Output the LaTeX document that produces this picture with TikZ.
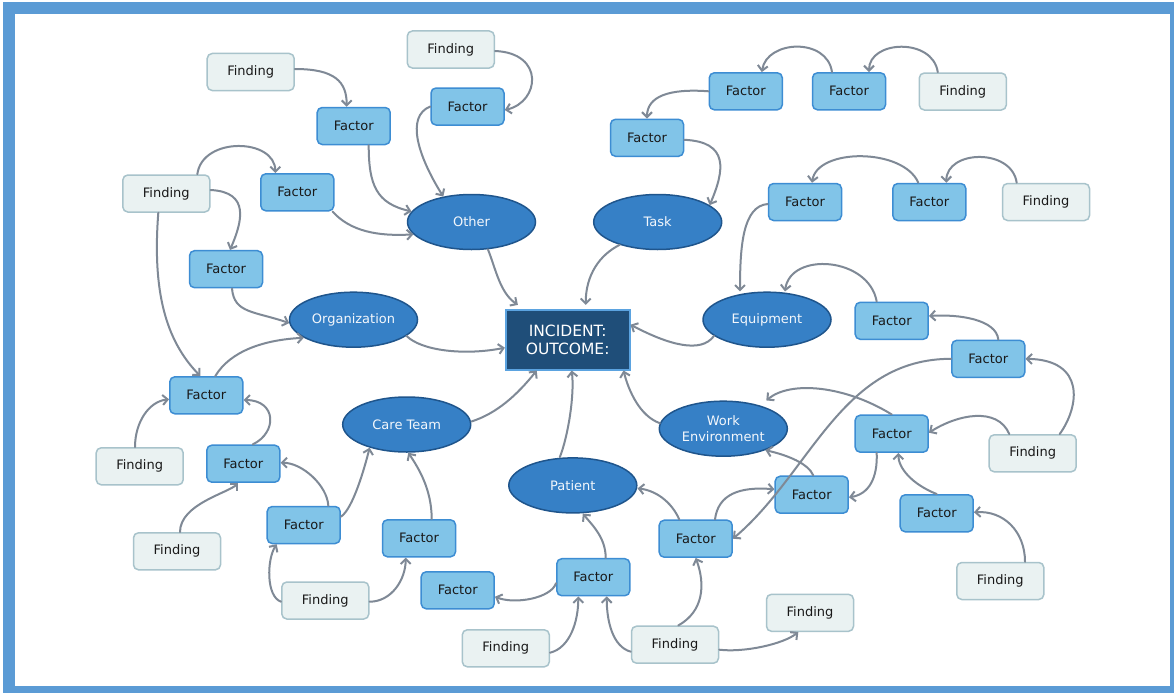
\documentclass[tikz,border=0pt]{standalone}
\usepackage{fontspec}
\setmainfont{DejaVu Sans}
\usetikzlibrary{arrows.meta,shapes.geometric}
\definecolor{framebl}{HTML}{5B9BD5}
\definecolor{factfill}{HTML}{81C4E8}
\definecolor{factline}{HTML}{3D8DD3}
\definecolor{findfill}{HTML}{EAF2F2}
\definecolor{findline}{HTML}{A8C3CB}
\definecolor{catfill}{HTML}{3680C6}
\definecolor{catline}{HTML}{1F558C}
\definecolor{corefill}{HTML}{1F4E79}
\definecolor{coreline}{HTML}{5BA3E0}
\definecolor{linkgray}{HTML}{7F8996}
\tikzset{
  box/.style={rectangle, rounded corners=5pt, minimum height=37pt, inner sep=0pt,
    line width=1.5pt, font=\fontsize{13}{15}\selectfont, text=black!90},
  factor/.style={box, minimum width=73pt, fill=factfill, draw=factline},
  finding/.style={box, minimum width=87pt, fill=findfill, draw=findline},
  cat/.style={ellipse, minimum width=128pt, minimum height=55pt, inner sep=0pt,
    fill=catfill, draw=catline, line width=1.5pt, text=white!94!catfill,
    font=\fontsize{13}{16.7}\selectfont, align=center},
  core/.style={rectangle, minimum width=124pt, minimum height=60pt, inner sep=0pt,
    fill=corefill, draw=coreline, line width=1.6pt, text=white,
    font=\fontsize{15.5}{18.3}\selectfont, align=center},
  link/.style={draw=linkgray, line width=2pt, line cap=round,
    -{Straight Barb[length=5pt,width=10pt]}},
}
\begin{document}
\begin{tikzpicture}[x=1pt,y=-1pt]
\useasboundingbox (0,0) rectangle (1174,693);
% frame
\fill[framebl] (3,2) rectangle (1174,693);
\fill[white] (15,14) rectangle (1170,686);

% central outcome
\node[core] (core) at (567.7,339.7) {INCIDENT:\\OUTCOME:};

% categories
\node[cat] (oth)  at (471.5,222)   {Other};
\node[cat] (task) at (657.7,222)   {Task};
\node[cat] (eq)   at (767,319.7)   {Equipment};
\node[cat] (org)  at (353.5,319.7) {Organization};
\node[cat] (ct)   at (406.7,424.5) {Care Team};
\node[cat] (pat)  at (572.8,485.4) {Patient};
\node[cat] (we)   at (723.3,428.7) {Work\\Environment};

% factors
\node[factor] (f1)  at (353.7,126)   {Factor};
\node[factor] (f2)  at (467.5,106.5) {Factor};
\node[factor] (f3)  at (647,137.8)   {Factor};
\node[factor] (f4)  at (745.8,91.3)  {Factor};
\node[factor] (f5)  at (849,91.3)    {Factor};
\node[factor] (f6)  at (805,202)     {Factor};
\node[factor] (f7)  at (929.3,202)   {Factor};
\node[factor] (f8)  at (891.7,320.8) {Factor};
\node[factor] (f9)  at (988.3,358.8) {Factor};
\node[factor] (f10) at (891.7,433.7) {Factor};
\node[factor] (f11) at (811.7,494.7) {Factor};
\node[factor] (f12) at (936.7,513.3) {Factor};
\node[factor] (f13) at (695.7,538.7) {Factor};
\node[factor] (f14) at (593.3,577.2) {Factor};
\node[factor] (f15) at (457.7,590.3) {Factor};
\node[factor] (f16) at (419,538.3)   {Factor};
\node[factor] (f17) at (303.7,525)   {Factor};
\node[factor] (f18) at (243.3,463.7) {Factor};
\node[factor] (f19) at (206.3,395.3) {Factor};
\node[factor] (f20) at (226,269.2)   {Factor};
\node[factor] (f21) at (297.3,192.3) {Factor};

% findings
\node[finding] (g1)  at (250.7,72)    {Finding};
\node[finding] (g2)  at (450.8,49.5)  {Finding};
\node[finding] (g3)  at (166.3,193.5) {Finding};
\node[finding] (g4)  at (962.8,91.5)  {Finding};
\node[finding] (g5)  at (1046,202)    {Finding};
\node[finding] (g6)  at (1032.7,453.3){Finding};
\node[finding] (g7)  at (1000.3,581)  {Finding};
\node[finding] (g8)  at (505.8,648.3) {Finding};
\node[finding] (g9)  at (675,644.7)   {Finding};
\node[finding] (g10) at (810,612.8)   {Finding};
\node[finding] (g11) at (325.3,600.5) {Finding};
\node[finding] (g12) at (177,551.3)   {Finding};
\node[finding] (g13) at (139.7,466.3) {Finding};

% connectors
\draw[link] ([yshift=3pt]g1.east) .. controls +(40,0) and +(0,-25) .. ([xshift=-7pt]f1.north);
\draw[link] ([yshift=-1.5pt]g2.east) .. controls +(50,2) and +(35,-8) .. ([yshift=-3.5pt]f2.east);
\draw[link] ([xshift=15pt]f1.south) .. controls +(0,40) and +(-35,-8) .. (oth.170);
\draw[link] (f2.west) .. controls +(-25,10) and +(-25,-40) .. (oth.138);
\draw[link] ([xshift=-2pt]f21.south east) .. controls +(18,20) and +(-35,2) .. (oth.192);
\draw[link] ([xshift=31pt]g3.north) .. controls +(5,-38) and +(0,-35) .. ([xshift=-22pt]f21.north);
\draw[link] ([yshift=3.5pt]g3.east) .. controls +(40,2) and +(12,-28) .. ([xshift=4pt]f20.north);
\draw[link] ([xshift=-8pt]g3.south) .. controls +(-6,78) and +(-35,-36) .. ([xshift=-6pt]f19.north);
\draw[link] ([xshift=6pt]f20.south) .. controls +(2,25) and +(-35,-12) .. (org.183);
\draw[link] ([xshift=9pt]f19.north) .. controls +(15,-25) and +(-40,2) .. (org.200);
\draw[link] (org.-17) .. controls +(15,15) and +(-40,8) .. ([yshift=-8pt]core.west);
\draw[link] (oth.-59) .. controls +(8,20) and +(-18,-12) .. ([xshift=13pt,yshift=4pt]core.north west);
\draw[link] (task.211) .. controls +(-20,10) and +(0,-30) .. ([xshift=18pt,yshift=4pt]core.north);
\draw[link] ([yshift=-2pt]f3.east) .. controls +(45,2) and +(15,-35) .. (task.18);
\draw[link] (f4.west) .. controls +(-40,-3) and +(0,-22) .. (f3.north);
\draw[link] ([xshift=-17pt]f5.north) .. controls +(-5,-35) and +(5,-32) .. ([xshift=16pt]f4.north);
\draw[link] ([xshift=-25pt]g4.north) .. controls +(-5,-35) and +(0,-32) .. ([xshift=20pt]f5.north);
\draw[link] ([yshift=-2pt]f6.west) .. controls +(-25,2) and +(0,-45) .. ([xshift=-27pt]eq.north);
\draw[link] ([xshift=-11pt]f7.north) .. controls +(-15,-35) and +(5,-35) .. ([xshift=7pt]f6.north);
\draw[link] ([xshift=-29.3pt]g5.north) .. controls +(-5,-35) and +(0,-33) .. ([xshift=17pt]f7.north);
\draw[link] ([xshift=-15pt]f8.north) .. controls +(-8,-45) and +(5,-40) .. ([xshift=18pt]eq.north);
\draw[link] (eq.197) .. controls +(-13,18) and +(38,20) .. ([yshift=15pt]core.east);
\draw[link] ([xshift=10pt]f9.north) .. controls +(-2,-20) and +(30,-2) .. ([yshift=4.8pt]f8.east);
\draw[link] ([xshift=27pt]g6.north) .. controls +(20,-28) and +(60,1) .. (f9.east);
\draw[link] ([xshift=-23.4pt]g6.north) .. controls +(-12,-28) and +(28,-18) .. ([yshift=1pt]f10.east);
\draw[link] (f9.west) .. controls +(-110,0) and +(78,-66) .. (f13.east);
\draw[link] (f10.north) .. controls +(-47,-29) and +(24,-20) .. ([xshift=43pt]we.north);
\draw[link] ([xshift=-15pt]f10.south) .. controls +(1,25) and +(20,-3) .. ([yshift=-2.6pt]f11.east);
\draw[link] (f12.north) .. controls +(-25,-10) and +(0,15) .. ([xshift=6.6pt]f10.south);
\draw[link] ([xshift=24.7pt]g7.north) .. controls +(0,-30) and +(30,-2) .. ([yshift=1pt]f12.east);
\draw[link] ([xshift=1.6pt]f11.north) .. controls +(-5,-12) and +(22,5) .. (we.-27);
\draw[link] ([xshift=19.3pt]f13.north) .. controls +(3,-25) and +(-35,-3) .. ([yshift=5.4pt]f11.west);
\draw[link] ([xshift=-16.4pt]f13.north) .. controls +(-8,-18) and +(18,2) .. ([yshift=-3pt]pat.east);
\draw[link] (we.175) .. controls +(-20,-7) and +(5,20) .. ([xshift=-7pt]core.south east);
\draw[link] ([xshift=-13pt]pat.north) .. controls +(8,-20) and +(3,25) .. ([xshift=4pt]core.south);
\draw[link] ([yshift=3pt]ct.east) .. controls +(25,-8) and +(-20,25) .. ([xshift=-31pt]core.south);
\draw[link] ([xshift=12.4pt]f14.north) .. controls +(0,-20) and +(10,12) .. ([xshift=10pt]pat.south);
\draw[link] ([yshift=-6pt]f14.west) .. controls +(-5,15) and +(20,8) .. ([yshift=-6.4pt]f15.east);
\draw[link] ([yshift=-4.4pt]g8.east) .. controls +(20,-5) and +(0,25) .. ([xshift=-15pt]f14.south);
\draw[link] ([yshift=-7pt]g9.west) .. controls +(-18,-5) and +(0,25) .. ([xshift=13.4pt]f14.south);
\draw[link] ([xshift=3.3pt]g9.north) .. controls +(25,-14) and +(10,27) .. (f13.south);
\draw[link] ([yshift=-5pt]g9.east) .. controls +(25,3) and +(-15,12) .. ([xshift=-11.7pt]g10.south);
\draw[link] ([xshift=12.7pt]f16.north) .. controls +(0,-30) and +(10,15) .. ([xshift=1.6pt]ct.south);
\draw[link] ([yshift=-1.2pt]g11.east) .. controls +(22,0) and +(0,22) .. ([xshift=-13.3pt]f16.south);
\draw[link] ([yshift=-1.2pt]g11.west) .. controls +(-15,-5) and +(-10,15) .. ([xshift=-27pt]f17.south);
\draw[link] ([yshift=8.3pt]f17.east) .. controls +(12,-8) and +(-5,20) .. (ct.212);
\draw[link] ([xshift=24.6pt]f17.north) .. controls +(-1,-20) and +(22,0) .. ([yshift=1pt]f18.east);
\draw[link] ([xshift=9.4pt]f18.north) .. controls +(25,-12) and +(33,0) .. ([yshift=-4.7pt]f19.east);
\draw[link] ([xshift=3pt]g12.north) .. controls +(0,-28) and +(-10,10) .. ([xshift=-5pt]f18.south);
\draw[link] ([xshift=-4.7pt]g13.north) .. controls +(0,-25) and +(-20,2) .. ([yshift=-4pt]f19.west);
\end{tikzpicture}
\end{document}
